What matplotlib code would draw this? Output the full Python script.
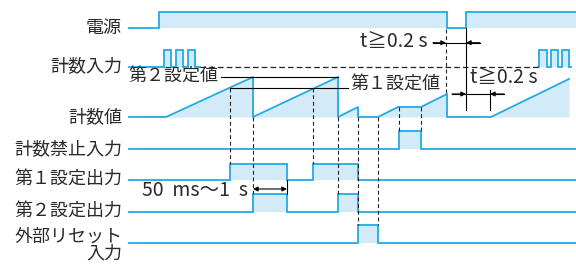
import matplotlib.pyplot as plt

plt.rcParams['font.family'] = ['Noto Sans CJK JP', 'DejaVu Sans']

BLUE = "#22aae6"
FILL = "#d3ebf8"
TXT = "#2a2a2a"

# row labels and their baseline (pixel rows of the diagram)
labels = ["電源", "計数入力", "計数値", "計数禁止入力", "第１設定出力", "第２設定出力"]
label_y = [28, 66.5, 117, 149, 180, 212]

# digital signals: edges (time) and level 0/1
power_t = [129, 159, 159, 447, 447, 466, 466, 576]
power_v = [0, 0, 1, 1, 0, 0, 1, 1]

count_in_t = [129, 164, 164, 171, 171, 176, 176, 183, 183, 188, 188, 195, 195, 200]
count_in_v = [0, 0, 1, 1, 0, 0, 1, 1, 0, 0, 1, 1, 0, 0]
count_in2_t = [538, 539, 539, 547, 547, 551, 551, 558, 558, 562, 562, 569, 569, 571]
count_in2_v = [0, 0, 1, 1, 0, 0, 1, 1, 0, 0, 1, 1, 0, 0]

inhibit_t = [129, 399, 399, 421, 421, 576]
inhibit_v = [0, 0, 1, 1, 0, 0]

out1_t = [129, 230, 230, 287, 287, 313, 313, 358, 358, 576]
out1_v = [0, 0, 1, 1, 0, 0, 1, 1, 0, 0]

out2_t = [129, 253, 253, 287, 287, 338, 338, 358, 358, 576]
out2_v = [0, 0, 1, 1, 0, 0, 1, 1, 0, 0]

reset_t = [129, 358, 358, 378, 378, 576]
reset_v = [0, 0, 1, 1, 0, 0]

# count value (set value 2 = 40, set value 1 = 29)
cnt_t = [129, 166, 253, 253, 338, 338, 358, 358, 378, 398, 421, 447, 447, 491, 569]
cnt_v = [0, 0, 40, 0, 40, 0, 10, 0, 0, 10, 10, 23, 0, 0, 38]
set2, set1 = 40, 29

fig = plt.figure(figsize=(5.76, 2.64), dpi=100)
ax = fig.add_axes([0, 0, 1, 1])
ax.set_xlim(0, 576)
ax.set_ylim(264, 0)
ax.axis("off")


def digital(t, v, base, h, fill=True):
    y = [base - k * h for k in v]
    if fill:
        ax.fill_between(t, base, y, color=FILL, lw=0)
    ax.plot(t, y, color=BLUE, lw=1.3, solid_joinstyle="miter")


digital(power_t, power_v, 28, 16)
digital(count_in_t, count_in_v, 66.5, 16.5)
digital(count_in2_t, count_in2_v, 66.5, 16.5)
digital(inhibit_t, inhibit_v, 149, 18)
digital(out1_t, out1_v, 180, 16)
digital(out2_t, out2_v, 212, 18)
digital(reset_t, reset_v, 243, 18)

# count value ramp
cnt_y = [117 - v for v in cnt_v]
ax.fill_between(cnt_t, 117, cnt_y, color=FILL, lw=0)
ax.plot(cnt_t, cnt_y, color=BLUE, lw=1.3)

# dashed count input continuation
ax.plot([200, 538], [66.5, 66.5], color="#222", lw=0.9, dashes=(4.5, 2.5))

# set value lines
ax.plot([221, 338], [117 - set2] * 2, color="k", lw=0.8)
ax.plot([230, 348], [117 - set1] * 2, color="k", lw=0.8)

# dashed timing guides
guides = [(230, 88, 164), (253, 117, 194), (313, 88, 164), (338, 117, 194),
          (358, 117, 225), (378, 117, 225), (399, 107, 131), (421, 107, 131),
          (446, 29, 94)]
for x, y0, y1 in guides:
    ax.plot([x, x], [y0, y1], color="#222", lw=0.8, dashes=(3.5, 2.5))

# extension lines
for x, y0, y1 in [(466, 28, 110), (490, 90, 110), (287, 180, 194)]:
    ax.plot([x, x], [y0, y1], color="k", lw=0.8)

arrow = dict(arrowstyle="-|>", color="k", lw=0.8, mutation_scale=7,
             shrinkA=0, shrinkB=0)
# t>=0.2 s (power off)
ax.plot([433, 480], [42.7, 42.7], color="k", lw=0.8)
ax.annotate("", xy=(446, 42.7), xytext=(433, 42.7), arrowprops=arrow)
ax.annotate("", xy=(466, 42.7), xytext=(480, 42.7), arrowprops=arrow)
# t>=0.2 s (power on to count)
ax.plot([452, 504], [94, 94], color="k", lw=0.8)
ax.annotate("", xy=(466, 94), xytext=(452, 94), arrowprops=arrow)
ax.annotate("", xy=(490, 94), xytext=(504, 94), arrowprops=arrow)
# 50 ms - 1 s
ax.annotate("", xy=(253, 189), xytext=(287, 189),
            arrowprops=dict(arrowstyle="<|-|>", color="k", lw=0.8,
                            mutation_scale=7, shrinkA=0, shrinkB=0))

fs = 13
fl = 14
for lab, y in zip(labels, label_y):
    ax.text(122, y, lab, ha="right", va="center", fontsize=fs, color=TXT)
ax.text(122, 237, "外部リセット", ha="right", va="center", fontsize=fs, color=TXT)
ax.text(122, 254, "入力", ha="right", va="center", fontsize=fs, color=TXT)

ax.text(218, 77, "第２設定値", ha="right", va="center", fontsize=fs, color=TXT)
ax.text(350, 85, "第１設定値", ha="left", va="center", fontsize=fs, color=TXT)
ax.text(428, 42, "t≧0.2 s", ha="right", va="center", fontsize=fl, color=TXT)
ax.text(470, 78, "t≧0.2 s", ha="left", va="center", fontsize=fl, color=TXT)
ax.text(248, 191, "50  ms〜1  s", ha="right", va="center", fontsize=fl, color=TXT)

fig.savefig("out.png", dpi=100)
